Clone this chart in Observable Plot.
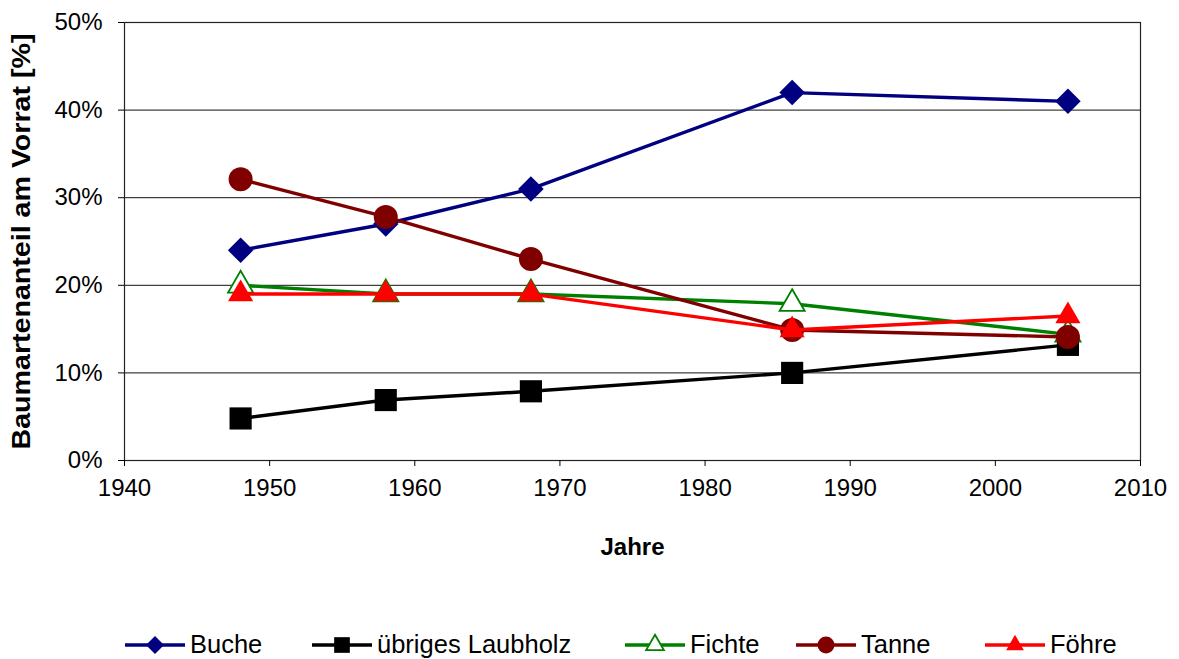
<!DOCTYPE html>
<html><head><meta charset="utf-8">
<script src="https://cdn.jsdelivr.net/npm/d3@7"></script>
<script src="https://cdn.jsdelivr.net/npm/@observablehq/plot@0.6"></script>
<style>
body{margin:0;background:#fff;font-family:"Liberation Sans",Arial,sans-serif;}
#legend{position:relative;height:40px;font-size:25.5px;margin-top:60px;}
#legend .it{position:absolute;top:0;display:flex;align-items:center;gap:5px;white-space:nowrap;}
</style></head><body>
<div id="chart"></div>
<div id="legend"></div>
<script>
const years = [1948, 1958, 1968, 1986, 2005];
const seriesNames = ["Buche", "übriges Laubholz", "Fichte", "Tanne", "Föhre"];
const buche = [24, 27, 31, 42, 41];
const laubholz = [4.8, 6.9, 7.9, 10, 13.2];
const fichte = [20, 19, 19, 17.9, 14.4];
const tanne = [32.1, 27.8, 23, 14.9, 14.1];
const foehre = [19, 19, 19, 14.9, 16.5];
const xTicks = [1940, 1950, 1960, 1970, 1980, 1990, 2000, 2010];
const yTicks = [0, 10, 20, 30, 40, 50];

const colors = ["#000080", "#000000", "#008000", "#800000", "#ff0000"];
const symbols = ["diamond2", "square", "triangle2", "circle", "triangle2"];
const fills = ["#000080", "#000000", "#ffffff", "#800000", "#ff0000"];
const radii = [11.5, 12.5, 12, 12, 12];
const values = [buche, laubholz, fichte, tanne, foehre];
const legendLeft = [125, 312, 625, 796, 985];

const data = [];
seriesNames.forEach((s, i) => years.forEach((y, j) => data.push({series: s, idx: i, year: y, value: values[i][j]})));

const marks = [
  Plot.ruleY(yTicks.filter(d => d > 0), {stroke: "#111", strokeWidth: 1}),
  Plot.frame({stroke: "#222", strokeWidth: 1.2}),
  Plot.axisX({ticks: xTicks, tickFormat: d => String(d), tickSize: 6, tickPadding: 12, fontSize: 24, label: "Jahre", labelAnchor: "center", labelOffset: 94, labelArrow: "none"}),
  Plot.axisY({ticks: yTicks, tickFormat: d => d + "%", tickSize: 6, tickPadding: 16, fontSize: 24, label: "Baumartenanteil am Vorrat [%]", labelAnchor: "center", labelOffset: 112, labelArrow: "none"}),
];
seriesNames.forEach((s, i) => {
  const d = data.filter(r => r.idx === i);
  marks.push(Plot.line(d, {x: "year", y: "value", stroke: colors[i], strokeWidth: 3.4}));
  marks.push(Plot.dot(d, {x: "year", y: "value", symbol: () => symbols[i], r: radii[i], fill: fills[i], stroke: i === 2 ? colors[i] : "none", strokeWidth: 1.8}));
});

const chart = Plot.plot({
  width: 1179, height: 570,
  marginLeft: 124, marginRight: 39, marginTop: 22, marginBottom: 110,
  style: {fontFamily: "'Liberation Sans', Arial, sans-serif", fontSize: "24px", color: "#000", background: "#fff"},
  x: {domain: [1940, 2010]},
  y: {domain: [0, 50]},
  marks
});
document.getElementById("chart").append(chart);
chart.querySelectorAll("g[aria-label='x-axis label'] text").forEach(t => {t.setAttribute("font-weight", "bold"); t.setAttribute("font-size", "24");});
chart.querySelectorAll("g[aria-label='y-axis label'] text").forEach(t => {t.setAttribute("font-weight", "bold"); t.setAttribute("font-size", "25"); t.setAttribute("textLength", "416"); t.setAttribute("lengthAdjust", "spacingAndGlyphs");});

const legend = document.getElementById("legend");
seriesNames.forEach((s, i) => {
  const it = document.createElement("div"); it.className = "it"; it.style.left = legendLeft[i] + "px";
  const sym = d3.symbol(i === 0 ? d3.symbolDiamond2 : i === 1 ? d3.symbolSquare : i === 3 ? d3.symbolCircle : d3.symbolTriangle2, Math.PI * radii[i] * radii[i] * 0.5)();
  it.innerHTML = `<svg width="60" height="26"><line x1="0" x2="60" y1="13" y2="13" stroke="${colors[i]}" stroke-width="3.4"/><path transform="translate(30,13)" d="${sym}" fill="${fills[i]}" stroke="${i===2?colors[i]:'none'}" stroke-width="1.8"/></svg><span>${s}</span>`;
  legend.append(it);
});
</script>
</body></html>
